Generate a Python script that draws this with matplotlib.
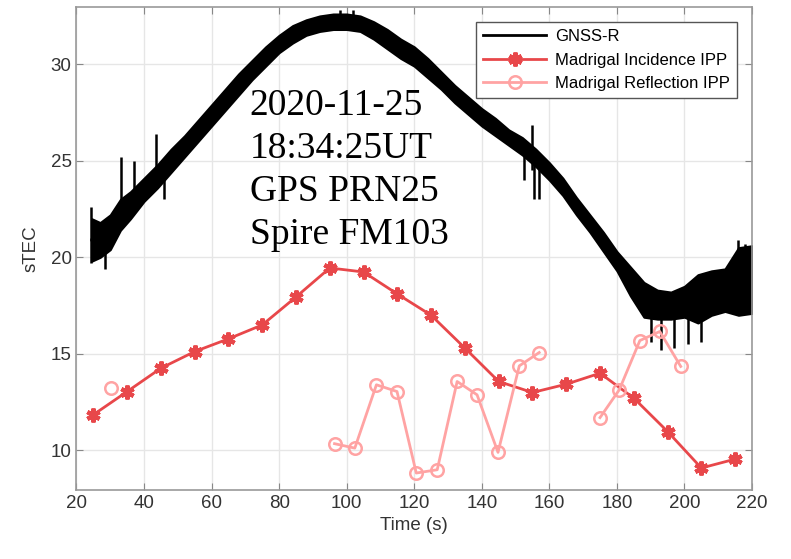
import matplotlib.pyplot as plt
import numpy as np

# Madrigal incidence IPP
t_inc = [25, 35, 45, 55, 65, 75, 85, 95, 105, 115, 125, 135, 145, 155, 165, 175, 185, 195, 205, 215]
v_inc = [11.85, 13.05, 14.26, 15.12, 15.78, 16.5, 17.95, 19.45, 19.24, 18.1, 17.0, 15.3,
         13.57, 13.0, 13.43, 14.0, 12.71, 10.98, 9.09, 9.55]

# Madrigal reflection IPP (nan = gap)
t_ref = [30.3, 60.0, 96.4, 102.4, 108.8, 114.9, 120.6, 126.8, 132.7, 138.6, 144.8, 151.1,
         157.0, 166.0, 175.0, 180.7, 186.8, 192.7, 198.9]
v_ref = [13.23, np.nan, 10.35, 10.12, 13.4, 13.05, 8.83, 9.0, 13.57, 12.88, 9.9, 14.38,
         15.07, np.nan, 11.7, 13.14, 15.69, 16.16, 14.35]

# GNSS-R noise band
t_gnss = [24.5, 27, 30, 33, 36, 40, 44, 48, 52, 56, 60, 64, 68, 72, 76, 80, 84, 88, 92, 96,
          100, 104, 108, 112, 116, 120, 124, 128, 132, 136, 140, 144, 148, 152, 156, 160,
          164, 168, 172, 176, 180, 184, 188, 192, 196, 200, 204, 208, 212, 216, 220]
lo_gnss = [19.8, 20.0, 20.4, 21.4, 22.0, 22.9, 23.6, 24.4, 25.2, 26.0, 26.8, 27.6, 28.4,
           29.2, 29.9, 30.6, 31.1, 31.5, 31.7, 31.8, 31.8, 31.7, 31.3, 30.8, 30.3, 29.9,
           29.3, 28.7, 28.0, 27.4, 26.8, 26.3, 25.8, 25.3, 24.7, 24.0, 23.2, 22.2, 21.3,
           20.3, 19.3, 18.0, 16.9, 16.8, 16.8, 16.9, 16.6, 17.0, 17.2, 17.0, 17.1]
hi_gnss = [22.0, 21.8, 22.2, 23.0, 23.4, 24.1, 24.8, 25.6, 26.3, 27.1, 27.9, 28.7, 29.5,
           30.2, 30.9, 31.5, 32.0, 32.3, 32.5, 32.6, 32.6, 32.5, 32.2, 31.8, 31.3, 30.9,
           30.3, 29.6, 28.9, 28.3, 27.7, 27.2, 26.6, 26.2, 25.6, 24.9, 24.1, 23.1, 22.2,
           21.3, 20.3, 19.5, 18.7, 18.3, 18.2, 18.5, 19.1, 19.3, 19.4, 20.5, 20.6]

# GNSS-R spikes: time, low, high
spike_t = [24.4, 28.5, 33.3, 37.0, 43.4, 45.8, 98, 102, 152.5, 155.0, 155.5, 157.0,
           190, 193, 197, 201, 205, 216, 218]
spike_lo = [19.7, 19.4, 21.8, 22.5, 24.0, 23.0, 32.0, 32.0, 24.0, 24.5, 23.0, 23.0,
            15.6, 15.2, 15.3, 15.5, 15.6, 17.5, 17.5]
spike_hi = [22.6, 21.6, 25.2, 25.0, 26.4, 25.0, 32.8, 32.8, 26.1, 26.85, 25.5, 25.4,
            17.5, 17.5, 17.3, 17.5, 17.8, 20.9, 20.7]

red = '#E8474A'
pink = '#FFA3A3'

fig = plt.figure(figsize=(7.91, 5.59), dpi=100)
ax = fig.add_axes([0.0967, 0.1234, 0.854, 0.8636])

ax.fill_between(t_gnss, lo_gnss, hi_gnss, color='black', lw=1.5, zorder=2)
ax.vlines(spike_t, spike_lo, spike_hi, color='black', lw=1.8, zorder=2)
mid = [(a + b) / 2 for a, b in zip(lo_gnss, hi_gnss)]
ax.plot(t_gnss, mid, color='black', lw=2, label='GNSS-R', zorder=2)

ax.plot(t_inc, v_inc, color=red, lw=2, marker=(6, 2, 0), ms=10, mew=3,
        label='Madrigal Incidence IPP', zorder=3)
ax.plot(t_ref, v_ref, color=pink, lw=2, marker='o', ms=9, mfc='none', mew=1.8,
        label='Madrigal Reflection IPP', zorder=3)

ax.text(71.3, 28.75, '2020-11-25\n18:34:25UT\nGPS PRN25\nSpire FM103',
        family='Liberation Serif', fontsize=27, ha='left', va='top', linespacing=1.32)

ax.set_xlim(20, 220)
ax.set_ylim(7.95, 32.95)
ax.set_xticks(range(20, 221, 20))
ax.set_yticks([10, 15, 20, 25, 30])
ax.grid(True, color='#e6e6e6', lw=1)
ax.set_axisbelow(True)
ax.tick_params(direction='in', top=True, right=True, length=5, color='#888888',
               labelsize=13.5, labelcolor='#333333')
for s in ax.spines.values():
    s.set_color('#999999')
    s.set_linewidth(1.2)
ax.set_xlabel('Time (s)', fontsize=13.5, color='#333333', family='Liberation Sans')
ax.set_ylabel('sTEC', fontsize=13.5, color='#333333', family='Liberation Sans', labelpad=8)
for lab in ax.get_xticklabels() + ax.get_yticklabels():
    lab.set_family('Liberation Sans')

leg = ax.legend(loc='upper right', bbox_to_anchor=(0.978, 0.97),
                prop={'family': 'Liberation Sans', 'size': 12}, fancybox=False,
                framealpha=1, edgecolor='#555555', borderaxespad=0, handlelength=3.8,
                labelspacing=0.5, borderpad=0.45, handletextpad=0.5)
leg.get_frame().set_linewidth(1.0)

fig.savefig('out.png', dpi=100)
